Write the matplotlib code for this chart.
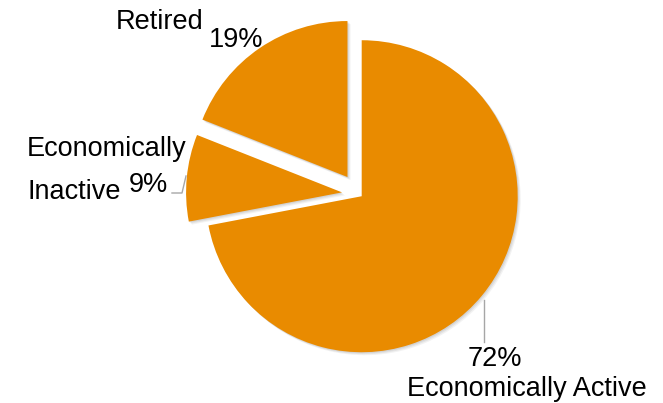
import matplotlib
matplotlib.use("Agg")
import matplotlib.pyplot as plt

categories = ["Economically Active", "Economically Inactive", "Retired"]
values = [72, 9, 19]
pct_labels = [f"{v}%" for v in values]

W, H = 663, 403
plt.rcParams['font.family'] = ['Liberation Sans', 'DejaVu Sans']
fig = plt.figure(figsize=(W / 100, H / 100), dpi=100)
ax = fig.add_axes([0, 0, 1, 1])

def py(y):
    return H - y

cx, cy, r = 359, py(194), 156
explode = [3.5, 17, 20.5]  # offsets in pixels (data units)
orange = '#E98B00'

# soft shadow
for k, a in [(3.0, 0.08), (2.0, 0.10), (1.0, 0.12)]:
    ax.pie(values, explode=explode, startangle=90, counterclock=False,
           center=(cx + k, cy - k), radius=r, colors=['#606060'] * 3,
           wedgeprops=dict(edgecolor='none', alpha=a))
ax.pie(values, explode=explode, startangle=90, counterclock=False,
       center=(cx, cy), radius=r, colors=[orange] * 3,
       wedgeprops=dict(edgecolor='none'))

ax.set_xlim(0, W)
ax.set_ylim(0, H)
ax.set_aspect('auto')
ax.axis('off')

fs = 19.5
lc = '#A6A6A6'
# Economically Active
ax.plot([484, 484], [py(300), py(342)], color=lc, lw=1.0)
ax.text(495, py(366), pct_labels[0], fontsize=fs, ha='center', va='baseline')
ax.text(527, py(396), categories[0], fontsize=fs, ha='center', va='baseline')
# Economically Inactive
w1, w2 = categories[1].split(" ")
ax.plot([172, 182, 186], [py(193), py(193), py(176)], color=lc, lw=1.0)
ax.text(27, py(149), w1, fontsize=fs, ha='left', va='center')
ax.text(27, py(192), w2, fontsize=fs, ha='left', va='center')
ax.text(148, py(185), pct_labels[1], fontsize=fs, ha='center', va='center')
# Retired
ax.text(160, py(22), categories[2], fontsize=fs, ha='center', va='center')
ax.text(236, py(40), pct_labels[2], fontsize=fs, ha='center', va='center')

fig.savefig("out.png", dpi=100, facecolor='white')
